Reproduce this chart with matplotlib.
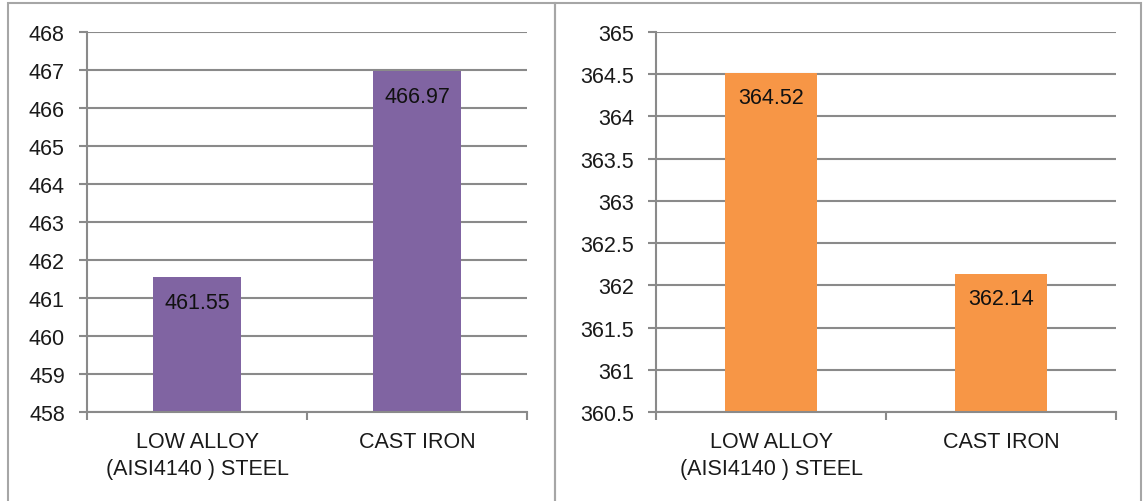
import matplotlib.pyplot as plt
from matplotlib.patches import Rectangle
from matplotlib.ticker import FormatStrFormatter, FuncFormatter

plt.rcParams['font.family'] = ['Liberation Sans', 'DejaVu Sans']

categories = ["LOW ALLOY\n(AISI4140 ) STEEL", "CAST IRON"]
left_values = [461.55, 466.97]
right_values = [364.52, 362.14]
left_ticks = [458, 459, 460, 461, 462, 463, 464, 465, 466, 467, 468]
right_ticks = [360.5, 361, 361.5, 362, 362.5, 363, 363.5, 364, 364.5, 365]

GRID = "#8a8a8a"
W, H = 1143, 502

fig = plt.figure(figsize=(W / 100, H / 100), dpi=100)

# panel frames
for x0, x1 in [(8, 555), (555, 1141)]:
    fig.add_artist(Rectangle((x0 / W, -0.1), (x1 - x0) / W, (H - 4) / H + 0.1,
                             transform=fig.transFigure, fill=False,
                             edgecolor="#a6a6a6", linewidth=1.5, clip_on=False))


def draw(ax, values, ticks, color, fmt):
    x = range(len(values))
    bars = ax.bar(x, values, width=0.4, color=color, zorder=3)
    ax.set_xlim(-0.5, len(values) - 0.5)
    ax.set_ylim(ticks[0], ticks[-1])
    ax.set_yticks(ticks)
    ax.yaxis.set_major_formatter(fmt)
    ax.set_xticks(list(x))
    ax.set_xticklabels(categories, linespacing=1.35)
    ax.set_xticks([-0.5, 0.5, 1.5], minor=True)
    ax.tick_params(axis="x", which="major", length=0, pad=14)
    ax.tick_params(axis="x", which="minor", length=6, width=1.5, color=GRID,
                   direction="out")
    ax.tick_params(axis="y", length=6, width=1.5, color=GRID, pad=10)
    ax.tick_params(labelsize=15.5, labelcolor="#1a1a1a")
    ax.grid(axis="y", color=GRID, linewidth=1.5, zorder=0)
    for s in ["top", "right"]:
        ax.spines[s].set_visible(False)
    for s in ["left", "bottom"]:
        ax.spines[s].set_color(GRID)
        ax.spines[s].set_linewidth(1.5)
        ax.spines[s].set_zorder(4)
    for b, v in zip(bars, values):
        ax.annotate(f"{v:.2f}", (b.get_x() + b.get_width() / 2, v),
                    xytext=(0, -18), textcoords="offset points",
                    ha="center", va="center", fontsize=15.5, color="#111111",
                    zorder=5)


ax1 = fig.add_axes([87 / W, (H - 413) / H, 440 / W, 380 / H])
draw(ax1, left_values, left_ticks, "#8064A2", FormatStrFormatter("%d"))

ax2 = fig.add_axes([656 / W, (H - 413) / H, 460 / W, 380 / H])
draw(ax2, right_values, right_ticks, "#F79646",
     FuncFormatter(lambda v, p: f"{v:g}"))

fig.savefig("out.png", dpi=100)
